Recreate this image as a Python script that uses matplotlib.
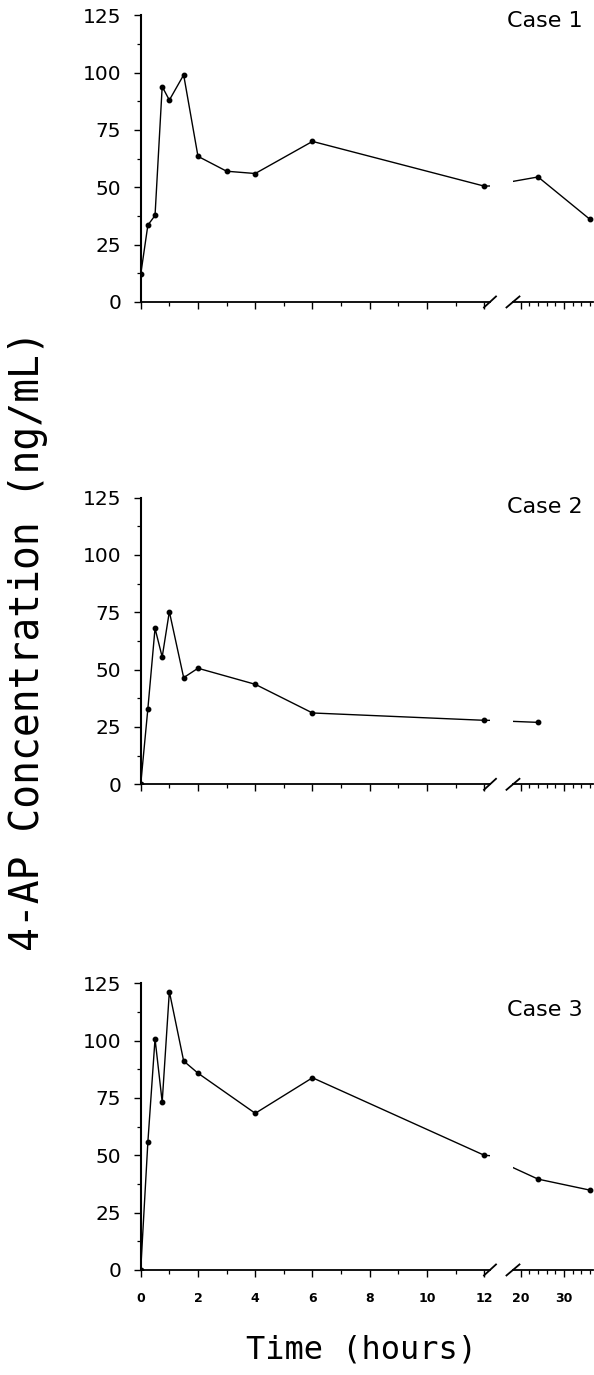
import matplotlib.pyplot as plt
from matplotlib.ticker import MultipleLocator

# data (hours, ng/mL)
case_names = ['Case 1', 'Case 2', 'Case 3']

times1 = [0, 0.25, 0.5, 0.75, 1, 1.5, 2, 3, 4, 6, 12, 24, 36]
conc1 = [12, 33.5, 37.7, 93.9, 88.0, 99.0, 63.5, 57.0, 56.0, 70.0, 50.5, 54.5, 36.0]

times2 = [0, 0.25, 0.5, 0.75, 1, 1.5, 2, 4, 6, 12, 24]
conc2 = [0, 33.0, 68.0, 55.5, 75.3, 46.5, 50.6, 43.6, 31.1, 27.9, 27.0]

times3 = [0, 0.25, 0.5, 0.75, 1, 1.5, 2, 4, 6, 12, 24, 36]
conc3 = [0, 55.8, 100.8, 73.2, 121.4, 91.1, 85.8, 68.3, 83.8, 50.0, 39.6, 34.8]

all_times = [times1, times2, times3]
all_conc = [conc1, conc2, conc3]
label_y = [122.4, 120.7, 113.3]

fig = plt.figure(figsize=(5.94, 13.75), dpi=100)

# panel placement (figure fractions)
bottoms = [0.7804, 0.4296, 0.0764]
height = 0.2085
left_x, left_w = 0.2369, 0.588
right_x, right_w = 0.8636, 0.1355

for i in range(3):
    axl = fig.add_axes([left_x, bottoms[i], left_w, height])
    axr = fig.add_axes([right_x, bottoms[i], right_w, height])

    for ax in (axl, axr):
        ax.plot(all_times[i], all_conc[i], color='k', lw=1.0,
                marker='o', ms=3.2)
        ax.set_ylim(0, 125)
        ax.set_facecolor('none')
        ax.spines['top'].set_visible(False)
        ax.spines['right'].set_visible(False)
        ax.spines['bottom'].set_linewidth(1.3)
        ax.tick_params(which='major', direction='out', length=5, width=1)
        ax.tick_params(which='minor', direction='out', length=3, width=0.9)

    axl.set_xlim(0, 12.2)
    axr.set_xlim(18.2, 36.8)
    axr.spines['left'].set_visible(False)
    axl.spines['left'].set_linewidth(1.5)

    axl.xaxis.set_major_locator(MultipleLocator(2))
    axl.xaxis.set_minor_locator(MultipleLocator(1))
    axl.yaxis.set_major_locator(MultipleLocator(25))
    axl.yaxis.set_minor_locator(MultipleLocator(12.5))
    axl.tick_params(axis='y', labelsize=14.5, pad=9)

    axr.set_xticks([20, 30])
    axr.xaxis.set_minor_locator(MultipleLocator(2))
    axr.set_yticks([])

    if i == 2:
        for ax in (axl, axr):
            ax.tick_params(axis='x', labelsize=9, pad=11)
            for lab in ax.get_xticklabels():
                lab.set_fontweight('bold')
    else:
        axl.tick_params(axis='x', labelbottom=False)
        axr.tick_params(axis='x', labelbottom=False)

    # break marks on the time axis
    dy = 5.5 / (height * 1375)
    dxl = 6 / (left_w * 594)
    dxr = 6.5 / (right_w * 594)
    axl.plot([1 - dxl, 1 + dxl], [-dy, dy], transform=axl.transAxes,
             color='k', lw=1.3, clip_on=False)
    axr.plot([-dxr, dxr], [-dy, dy], transform=axr.transAxes,
             color='k', lw=1.3, clip_on=False)

    axr.text(34.4, label_y[i], case_names[i], ha='right', va='center',
             fontsize=16)

fig.text(0.047, 0.534, '4-AP Concentration (ng/mL)', rotation=90,
         family='DejaVu Sans Mono', fontsize=28.5, ha='center', va='center')
fig.text(0.608, 0.018, 'Time (hours)', family='DejaVu Sans Mono',
         fontsize=23, ha='center', va='center')

fig.savefig('out.png', dpi=100)
